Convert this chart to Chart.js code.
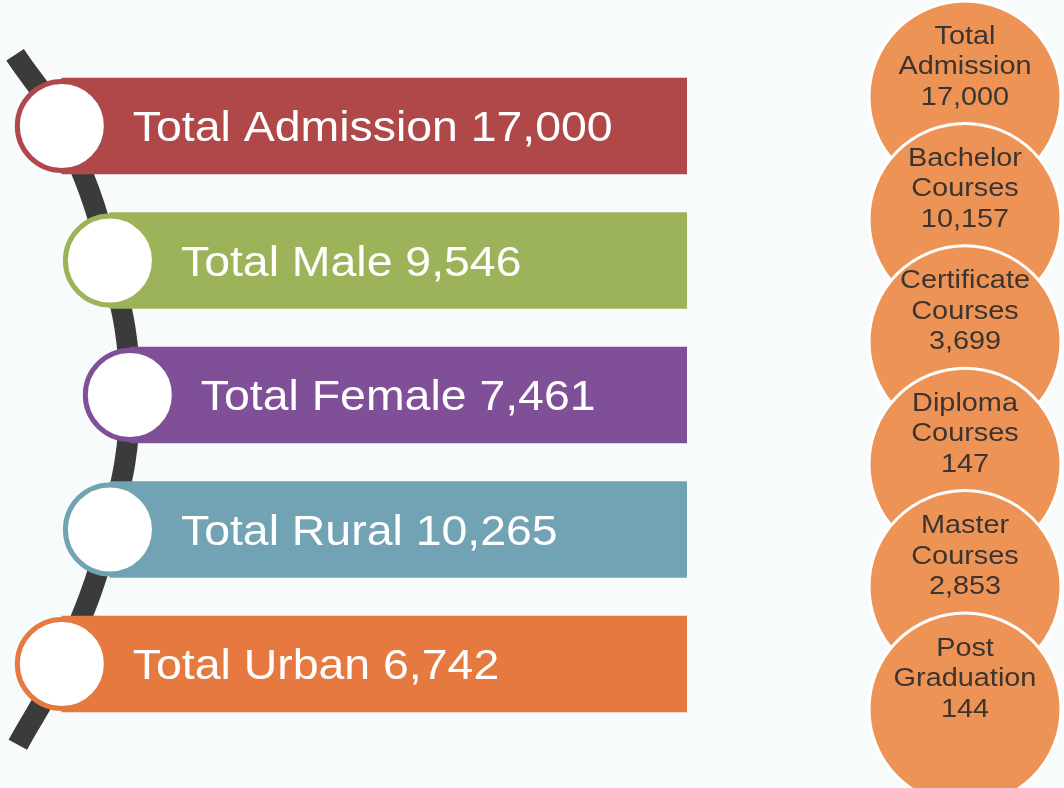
<!DOCTYPE html>
<html>
<head>
<meta charset="utf-8">
<title>Admissions</title>
<script src="https://cdn.jsdelivr.net/npm/chart.js@4.4.0/dist/chart.umd.min.js"></script>
<style>
  html, body { margin: 0; padding: 0; background: #f8fbfc; }
  body { width: 1064px; height: 788px; position: relative; overflow: hidden; }
  #ribbons { position: absolute; left: 0; top: 0; }
  #courses { position: absolute; left: 866px; top: 0; }
</style>
</head>
<body>
<canvas id="ribbons" width="687" height="788"></canvas>
<canvas id="courses" width="198" height="788"></canvas>
<script>
// admissions by group (left ribbons)
var groups = ["Total Admission", "Total Male", "Total Female", "Total Rural", "Total Urban"];
var groupCounts = [17000, 9546, 7461, 10265, 6742];

// admissions by course type (right circles)
var courses = ["Total Admission", "Bachelor Courses", "Certificate Courses", "Diploma Courses", "Master Courses", "Post Graduation"];
var courseCounts = [17000, 10157, 3699, 147, 2853, 144];

// look
var ribbonColors = ['#b0484a', '#9db35a', '#7f4f97', '#72a3b4', '#e5793f'];
var courseColor = '#ee9356';
// where each ribbon's circle sits, as a share of the ribbon width (follows the spine)
var indent = [0.09, 0.16, 0.189, 0.16, 0.09];

function fmt(n) { return n.toLocaleString('en-US'); }

// ****************ribbons*******************
var spine = [{ x: 0.022, y: -0.53 }];
indent.forEach(function (v, i) { spine.push({ x: v, y: i }); });
spine.push({ x: 0.026, y: 4.6 });

var ribbonText = {
  id: 'ribbonText',
  afterDatasetsDraw: function (chart) {
    var rings = chart.getDatasetMeta(2).data;
    var ctx = chart.ctx;
    ctx.save();
    ctx.fillStyle = '#ffffff';
    ctx.font = '42px "Liberation Sans", Arial, sans-serif';
    ctx.textBaseline = 'alphabetic';
    rings.forEach(function (ring, i) {
      ctx.save();
      ctx.translate(ring.x + 71, ring.y + 15);
      ctx.scale(1.105, 1);
      ctx.fillText(groups[i] + ' ' + fmt(groupCounts[i]), 0, 0);
      ctx.restore();
    });
    ctx.restore();
  }
};

var ctx1 = document.getElementById('ribbons').getContext('2d');
var chart1 = new Chart(ctx1, {
  type: 'bar',
  data: {
    datasets: [{
      // the dark curved spine behind the ribbons
      type: 'line',
      data: spine,
      borderColor: '#3b3b3b',
      borderWidth: 21,
      borderCapStyle: 'butt',
      tension: 0.4,
      pointRadius: 0,
      clip: false,
      order: 3
    }, {
      type: 'bar',
      indexAxis: 'y',
      data: groups.map(function (g, i) { return { x: [indent[i], 1], y: i }; }),
      backgroundColor: ribbonColors,
      borderWidth: 0,
      barThickness: 96,
      order: 2
    }, {
      type: 'bubble',
      data: indent.map(function (v, i) { return { x: v, y: i }; }),
      radius: 44.5,
      hoverRadius: 0,
      backgroundColor: '#ffffff',
      borderColor: ribbonColors,
      borderWidth: 5,
      clip: false,
      order: 1
    }]
  },
  options: {
    responsive: false,
    animation: false,
    events: [],
    layout: { padding: 0, autoPadding: false },
    plugins: { legend: { display: false }, tooltip: { enabled: false } },
    scales: {
      x: { type: 'linear', min: 0, max: 1, offset: false, display: false },
      y: { type: 'linear', min: -0.937, max: 4.922, reverse: true, offset: false, display: false }
    }
  },
  plugins: [ribbonText]
});

// ****************course circles*******************
var courseText = {
  id: 'courseText',
  afterDatasetsDraw: function (chart) {
    var pts = chart.getDatasetMeta(0).data;
    var ctx = chart.ctx;
    ctx.save();
    ctx.fillStyle = '#3b3430';
    ctx.font = '26px "Liberation Sans", Arial, sans-serif';
    ctx.textAlign = 'center';
    ctx.textBaseline = 'alphabetic';
    pts.forEach(function (p, i) {
      var lines = courses[i].split(' ').concat([fmt(courseCounts[i])]);
      lines.forEach(function (t, k) {
        ctx.save();
        ctx.translate(p.x, p.y - 32 + (k - 1) * 30.5 + 9);
        ctx.scale(1.11, 1);
        ctx.fillText(t, 0, 0);
        ctx.restore();
      });
    });
    ctx.restore();
  }
};

var ctx2 = document.getElementById('courses').getContext('2d');
var chart2 = new Chart(ctx2, {
  type: 'bubble',
  data: {
    datasets: [{
      data: courses.map(function (c, i) { return { x: 0, y: i }; }),
      radius: 96,
      hoverRadius: 0,
      backgroundColor: courseColor,
      borderColor: '#ffffff',
      borderWidth: 3,
      clip: false
    }]
  },
  options: {
    responsive: false,
    animation: false,
    events: [],
    layout: { padding: 0, autoPadding: false },
    plugins: { legend: { display: false }, tooltip: { enabled: false } },
    scales: {
      x: { type: 'linear', min: -1, max: 1, display: false },
      y: { type: 'linear', min: -0.7925, max: 5.6454, reverse: true, display: false }
    }
  },
  plugins: [courseText]
});
</script>
</body>
</html>
